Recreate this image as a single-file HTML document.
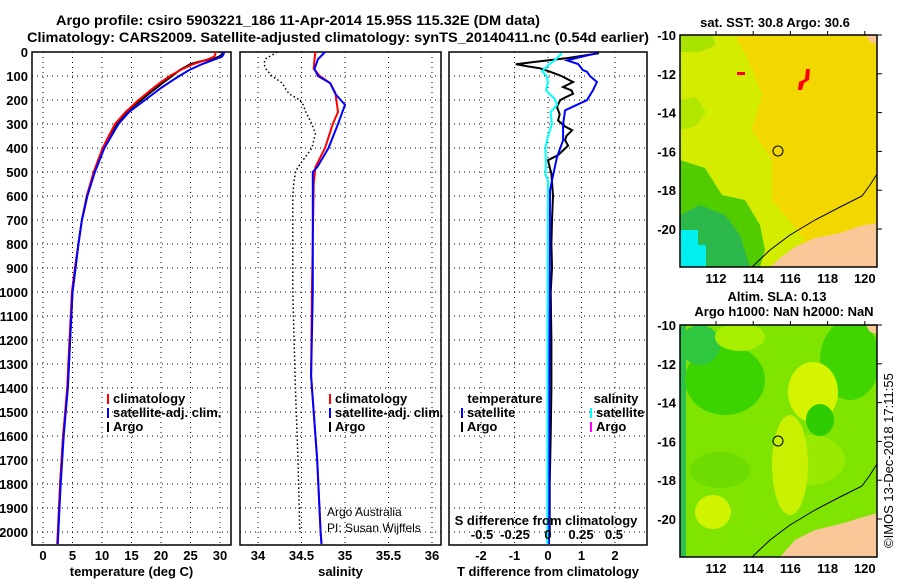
<!DOCTYPE html>
<html><head><meta charset="utf-8"><style>
html,body{margin:0;padding:0;background:#fff;}
svg{display:block;font-family:"Liberation Sans",sans-serif;}
.b{font-weight:bold;font-size:13px;}
</style></head><body>
<svg id="svg" width="900" height="580" viewBox="0 0 900 580">
<rect width="900" height="580" fill="#fff"/>
<text x="298" y="25" text-anchor="middle" font-weight="bold" font-size="14" textLength="484" lengthAdjust="spacingAndGlyphs">Argo profile: csiro 5903221_186 11-Apr-2014 15.95S 115.32E (DM data)</text>
<text x="338" y="42" text-anchor="middle" font-weight="bold" font-size="14" textLength="622" lengthAdjust="spacingAndGlyphs">Climatology: CARS2009. Satellite-adjusted climatology: synTS_20140411.nc (0.54d earlier)</text>
<g id="charts"></g>

<!-- Map 1 -->
<g>
<text x="775" y="27" text-anchor="middle" class="b">sat. SST: 30.8 Argo: 30.6</text>
<clipPath id="c1"><rect x="680" y="35" width="197" height="232"/></clipPath>
<g clip-path="url(#c1)">
<rect x="680" y="35" width="197" height="232" fill="#f2d800"/>
<polygon points="680,35 735,35 748,60 762,95 752,130 772,160 772,200 805,240 770,267 680,267" fill="#d4ec00"/>
<polygon points="680,35 712,35 716,45 700,52 680,52" fill="#a8e400"/>
<polygon points="680,100 696,97 706,112 696,126 680,130" fill="#b0e600"/>
<polygon points="680,160 705,168 722,195 745,200 760,225 765,250 760,267 680,267" fill="#50cc00"/>
<polygon points="680,215 700,205 725,215 740,235 750,267 680,267" fill="#2cb84a"/>
<rect x="680" y="230" width="18" height="37" fill="#00f0f0"/>
<rect x="698" y="245" width="8" height="22" fill="#00f0f0"/>
<polygon points="877,223 860,226 840,233 815,238 795,247 780,258 770,267 877,267" fill="#f8c898"/>
<polygon points="866,35 877,35 877,44 870,42" fill="#f8c898"/>
<rect x="737" y="72" width="8" height="3" fill="#f00"/>
<polygon points="806,69 810,69 809,80 804,83 802,90 798,90 799,82 805,79" fill="#f00"/>
<polyline points="752,267 770,250 790,235 815,220 840,207 862,196 870,185 877,174" fill="none" stroke="#000" stroke-width="1"/>
</g>
<rect x="680" y="35" width="197" height="232" fill="none" stroke="#000" stroke-width="1.5"/>
<circle cx="778" cy="151" r="5" fill="none" stroke="#000" stroke-width="1"/>
</g>

<!-- Map 2 -->
<g>
<text x="777" y="301" text-anchor="middle" class="b">Altim. SLA: 0.13</text>
<text x="784" y="316" text-anchor="middle" class="b">Argo h1000: NaN h2000: NaN</text>
<clipPath id="c2"><rect x="680" y="325" width="197" height="232"/></clipPath>
<g clip-path="url(#c2)">
<rect x="680" y="325" width="197" height="232" fill="#7ee400"/>
<rect x="680" y="325" width="6" height="232" fill="#30c050"/>
<ellipse cx="725" cy="380" rx="40" ry="35" fill="#3cd400"/>
<ellipse cx="700" cy="345" rx="20" ry="20" fill="#30c840"/>
<ellipse cx="740" cy="337" rx="25" ry="14" fill="#a8ee00"/>
<ellipse cx="850" cy="360" rx="30" ry="40" fill="#40d400"/>
<ellipse cx="810" cy="460" rx="35" ry="25" fill="#98ea00"/>
<ellipse cx="813" cy="392" rx="25" ry="30" fill="#d4f400"/>
<ellipse cx="790" cy="465" rx="18" ry="50" fill="#c8f000"/>
<ellipse cx="820" cy="420" rx="14" ry="16" fill="#2ccc00"/>
<ellipse cx="713" cy="512" rx="18" ry="17" fill="#d0f400"/>
<ellipse cx="720" cy="470" rx="30" ry="18" fill="#6edc00"/>
<polygon points="877,513 860,518 840,524 815,530 795,540 780,557 877,557" fill="#f8c898"/>
<polygon points="866,325 877,325 877,334 870,332" fill="#f8c898"/>
<polyline points="752,557 770,540 790,525 815,510 840,497 862,486 870,475 877,464" fill="none" stroke="#000" stroke-width="1"/>
</g>
<rect x="680" y="325" width="197" height="232" fill="none" stroke="#000" stroke-width="1.5"/>
<circle cx="778" cy="441" r="5" fill="none" stroke="#000" stroke-width="1"/>
</g>
<text transform="translate(893,548) rotate(-90)" font-size="13">©IMOS 13-Dec-2018 17:11:55</text>
<text x="327" y="516" font-size="12">Argo Australia</text>
<text x="327" y="532" font-size="12">PI: Susan Wijffels</text>
</svg>
<script>
// ---- data ----
const depthTicks = [0,100,200,300,400,500,600,700,800,900,1000,1100,1200,1300,1400,1500,1600,1700,1800,1900,2000];
const tempTicks = [0,5,10,15,20,25,30];
const salTicks = [34,34.5,35,35.5,36];
const salTickLabels = ["34","34.5","35","35.5","36"];
const tdiffTicks = [-2,-1,0,1,2];
const sdiffTicks = [-0.5,-0.25,0,0.25,0.5];
const sdiffTickLabels = ["-0.5","-0.25","0","0.25","0.5"];

const argoTDepth = [0,10,20,30,40,50,60,75,90,100,125,150,175,200,225,250,300,350,400,450,500,600,700,800,900,1000,1200,1400,1600,1800,2000];
const argoT = [30.6,30.3,29.8,28.5,26.5,25.0,24.3,23.2,22.4,21.9,20.5,19.2,17.9,16.7,15.4,14.2,12.5,11.2,10.2,9.4,8.7,7.5,6.6,6.0,5.5,5.0,4.6,4.2,3.4,2.9,2.6];
const climTDepth = [0,10,20,30,50,75,100,125,150,200,250,300,400,500,600,700,800,900,1000,1200,1400,1600,1800,2000,2050];
const climT = [29.2,29.2,29.0,28.0,25.5,23.3,21.5,20.0,18.7,16.2,14.0,12.2,10.1,8.6,7.4,6.6,6.0,5.4,4.9,4.5,4.1,3.4,2.9,2.5,2.4];
const satT = [30.7,30.6,30.3,29.2,27.0,24.8,23.1,21.5,20.0,17.3,14.6,12.8,10.4,8.8,7.5,6.6,6.0,5.5,5.0,4.6,4.2,3.5,3.0,2.6,2.5];

const argoSDepth = [0,30,50,70,100,130,150,175,200,220,250,300,340,400,450,480,500,550,600,1000,1400,1700,2000];
const argoS = [34.22,34.08,34.07,34.09,34.16,34.28,34.31,34.36,34.48,34.52,34.55,34.62,34.66,34.62,34.52,34.46,34.43,34.41,34.40,34.40,34.43,34.46,34.48];
const climSDepth = [0,30,70,100,130,170,250,300,400,480,550,1000,1350,1700,2000,2050];
const climS = [34.66,34.65,34.64,34.71,34.83,34.89,34.92,34.86,34.77,34.66,34.64,34.62,34.61,34.68,34.72,34.73];
const satSDepth = [0,30,70,100,130,175,220,300,400,480,500,1000,1350,1700,2000,2050];
const satS = [34.77,34.69,34.65,34.69,34.83,34.89,35.0,34.92,34.81,34.68,34.63,34.63,34.61,34.68,34.72,34.73];

const argoTdDepth = [5,25,40,51,60,68,82,100,125,146,160,174,190,201,229,260,285,310,326,350,368,390,410,430,451,480,507,600,700,800,900,1000,1200,1400,1600,1800,2000];
const argoTd = [1.52,0.6,-0.33,-0.96,-0.6,-0.24,0.06,0.4,0.75,0.45,0.7,0.75,0.5,0.36,0.27,0.35,0.3,0.5,0.72,0.55,0.51,0.6,0.45,0.3,0.0,0.05,0.1,0.15,0.12,0.1,0.12,0.08,0.1,0.1,0.08,0.05,0.05];
const satTdDepth = [5,20,35,50,75,82,100,125,160,201,243,299,368,437,535,576,1000,1500,2000,2050];
const satTd = [1.46,1.0,0.57,0.9,1.04,1.16,1.25,1.46,1.34,1.16,0.51,0.45,0.45,0.27,0.12,0.06,0.05,0.04,0.03,0.03];
const satSdDepth = [5,30,49,80,100,127,160,195,220,250,300,350,400,465,510,535,1000,2000,2050];
const satSd = [0.106,0.06,0.015,-0.045,-0.01,0,-0.015,0.05,0.07,0.02,0.03,0,-0.02,-0.015,-0.02,0,-0.003,-0.005,-0.005];

const mapLatTicks = [-10,-12,-14,-16,-18,-20];
const mapLonTicks = [112,114,116,118,120];

// ---- scales ----
const NS='http://www.w3.org/2000/svg';
const TOP=52, BOT=545;
const yD = d => TOP + d*0.24;
const xT = v => 43 + v*5.9;
const xS = v => 258 + (v-34)*87;
const xTd = v => 548 + v*33.5;
const xSd = v => 548 + v*132;
const yLat1 = v => 35 + (-10 - v)*19.4;
const yLat2 = v => 325 + (-10 - v)*19.4;
const xLon = v => 716 + (v-112)*18.6;

const g = document.getElementById('charts');
function el(tag, attrs, parent){const e=document.createElementNS(NS,tag);for(const k in attrs)e.setAttribute(k,attrs[k]);(parent||g).appendChild(e);return e;}
function txt(x,y,s,anchor,cls,parent){const t=el('text',{x:x,y:y,'text-anchor':anchor||'middle','class':cls||'b'},parent);t.textContent=s;return t;}

function panel(name,x0,x1,xs,ticks,labels,title){
  const grp=el('g',{});
  
  
  depthTicks.forEach(d=>{ if(d>0){ el('line',{x1:x0,x2:x1,y1:yD(d),y2:yD(d),stroke:'#000','stroke-dasharray':'1,4','stroke-width':1},grp);} });
  ticks.forEach((t,i)=>{ const x=xs(t);
    el('line',{x1:x,x2:x,y1:TOP,y2:BOT,stroke:'#000','stroke-dasharray':'1,4','stroke-width':1},grp);
    if(labels){ const l=txt(x,560,labels[i],'middle','b',grp);
      
       }
  });
  el('rect',{x:x0,y:TOP,width:x1-x0,height:BOT-TOP,fill:'none',stroke:'#000','stroke-width':1.5},grp);
  const tt=txt((x0+x1)/2,576,title,'middle','b',grp);
  
  
  return grp;
}
function line(grp,depths,vals,xs,color,name,w,dash){
  const p=el('polyline',{points:depths.map((d,i)=>xs(vals[i]).toFixed(1)+','+yD(d).toFixed(1)).join(' '),fill:'none',stroke:color,'stroke-width':w||2},grp);
  if(dash) p.setAttribute('stroke-dasharray',dash);
  
  
}
function legend(grp,x,y,color,label,name){
  el('line',{x1:x,x2:x,y1:y-9,y2:y+1,stroke:color,'stroke-width':2},grp);
  const t=txt(x+5,y,label,'start','b',grp);
  
  
}

const p1=panel('temperature-panel',32,231,xT,tempTicks,tempTicks.map(String),'temperature (deg C)');
depthTicks.forEach(d=>{ const t=txt(28,yD(d)+5,String(d),'end','b');
  
   });
line(p1,argoTDepth,argoT,xT,'#000','argo-temperature-line',2);
line(p1,climTDepth,climT,xT,'#f00','climatology-temperature-line',2);
line(p1,climTDepth,satT,xT,'#00f','satellite-temperature-line',2);
legend(p1,108,403,'#f00','climatology','legend-climatology');
legend(p1,108,417,'#00f','satellite-adj. clim.','legend-satellite');
legend(p1,108,431,'#000','Argo','legend-argo');

const p2=panel('salinity-panel',240,441,xS,salTicks,salTickLabels,'salinity');
line(p2,argoSDepth,argoS,xS,'#000','argo-salinity-line',1.5,'1.5,2.5');
line(p2,climSDepth,climS,xS,'#f00','climatology-salinity-line',2);
line(p2,satSDepth,satS,xS,'#00f','satellite-salinity-line',2);
legend(p2,330,403,'#f00','climatology','legend-climatology-s');
legend(p2,330,417,'#00f','satellite-adj. clim.','legend-satellite-s');
legend(p2,330,431,'#000','Argo','legend-argo-s');

const p3=panel('difference-panel',449,647,xTd,tdiffTicks,tdiffTicks.map(String),'T difference from climatology');
line(p3,argoTdDepth,argoTd,xTd,'#000','argo-t-diff-line',2);
line(p3,satTdDepth,satTd,xTd,'#00f','satellite-t-diff-line',2);
line(p3,satSdDepth,satSd,xSd,'#0ff','satellite-s-diff-line',2);
txt(505,403,'temperature','middle','b',p3);
txt(616,403,'salinity','middle','b',p3);
legend(p3,462,417,'#00f','satellite','legend-t-satellite');
legend(p3,462,431,'#000','Argo','legend-t-argo');
legend(p3,591,417,'#0ff','satellite','legend-s-satellite');
legend(p3,591,431,'#f0f','Argo','legend-s-argo');
const st=txt(546,525,'S difference from climatology','middle','b',p3);


sdiffTicks.forEach((t,i)=>{ const l=txt(xSd(t),539,sdiffTickLabels[i],'middle','b',p3);
  
   });

// map axes
const svg=document.getElementById('svg');
[[yLat1,35,267],[yLat2,325,557]].forEach(([yl,top,bot])=>{
  mapLatTicks.forEach(v=>{ const y=yl(v);
    const t=txt(676,y+5,String(v),'end','b',svg);
    
    
    el('line',{x1:877,x2:882,y1:y,y2:y,stroke:'#000'},svg); });
  mapLonTicks.forEach(v=>{ const x=xLon(v);
    el('line',{x1:x,x2:x,y1:top,y2:top-4,stroke:'#000'},svg);
    const t=txt(x,bot+16,String(v),'middle','b',svg);
    
     });
});
</script>
</body></html>
